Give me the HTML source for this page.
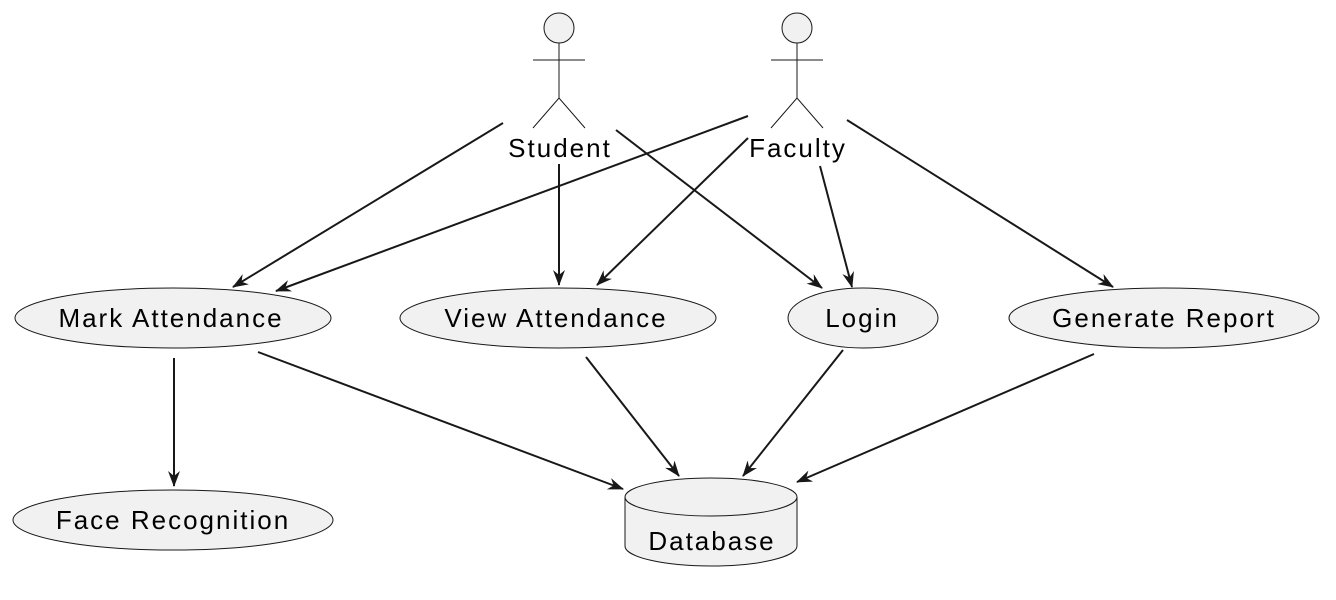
<!DOCTYPE html>
<html><head><meta charset="utf-8"><style>body{margin:0;background:#fff}svg{display:block}</style></head><body>
<svg width="1336" height="600" xmlns="http://www.w3.org/2000/svg" font-family="Liberation Sans, sans-serif">
<defs><marker id="a" viewBox="0 0 16 12" refX="15" refY="6" markerWidth="16" markerHeight="12" markerUnits="userSpaceOnUse" orient="auto"><path d="M0,0 L16,6 L0,12 L5,6 Z" fill="#181818"/></marker></defs>
<g stroke="#181818" stroke-width="1" fill="#f1f1f1">
<circle cx="559" cy="28" r="15"/><path d="M559,43V98M533,60H585M533,128L559,98L585,128" fill="none"/>
<circle cx="797" cy="28" r="15"/><path d="M797,43V98M771,60H823M771,128L797,98L823,128" fill="none"/>
<ellipse cx="173" cy="318" rx="158" ry="30"/>
<ellipse cx="558" cy="318" rx="158" ry="30"/>
<ellipse cx="863" cy="318" rx="75" ry="30"/>
<ellipse cx="1164" cy="318" rx="155" ry="30"/>
<ellipse cx="173" cy="520" rx="160" ry="30"/>
<path d="M625,497 V546 A86,20 0 0 0 797,546 V497"/>
<ellipse cx="711" cy="497" rx="86" ry="19"/>
</g>
<g stroke="#181818" stroke-width="2" fill="none" marker-end="url(#a)">
<line x1="503" y1="123" x2="233" y2="287"/>
<line x1="559" y1="164" x2="559" y2="285"/>
<line x1="616" y1="130" x2="822" y2="288"/>
<line x1="748" y1="116" x2="276" y2="291"/>
<line x1="748" y1="138" x2="597" y2="285"/>
<line x1="820" y1="166" x2="852" y2="287"/>
<line x1="847" y1="120" x2="1113" y2="287"/>
<line x1="174" y1="358" x2="174" y2="486"/>
<line x1="258" y1="352" x2="623" y2="489"/>
<line x1="586" y1="357" x2="679" y2="476"/>
<line x1="843" y1="350" x2="743" y2="476"/>
<line x1="1094" y1="354" x2="797" y2="482"/>
</g>
<g font-size="26" fill="#000" text-anchor="middle" letter-spacing="2">
<text x="560" y="157">Student</text>
<text x="798" y="157">Faculty</text>
<text x="171" y="327">Mark Attendance</text>
<text x="556" y="327">View Attendance</text>
<text x="862" y="327">Login</text>
<text x="1164" y="327">Generate Report</text>
<text x="173" y="529">Face Recognition</text>
<text x="712" y="550">Database</text>
</g>
</svg>
</body></html>
